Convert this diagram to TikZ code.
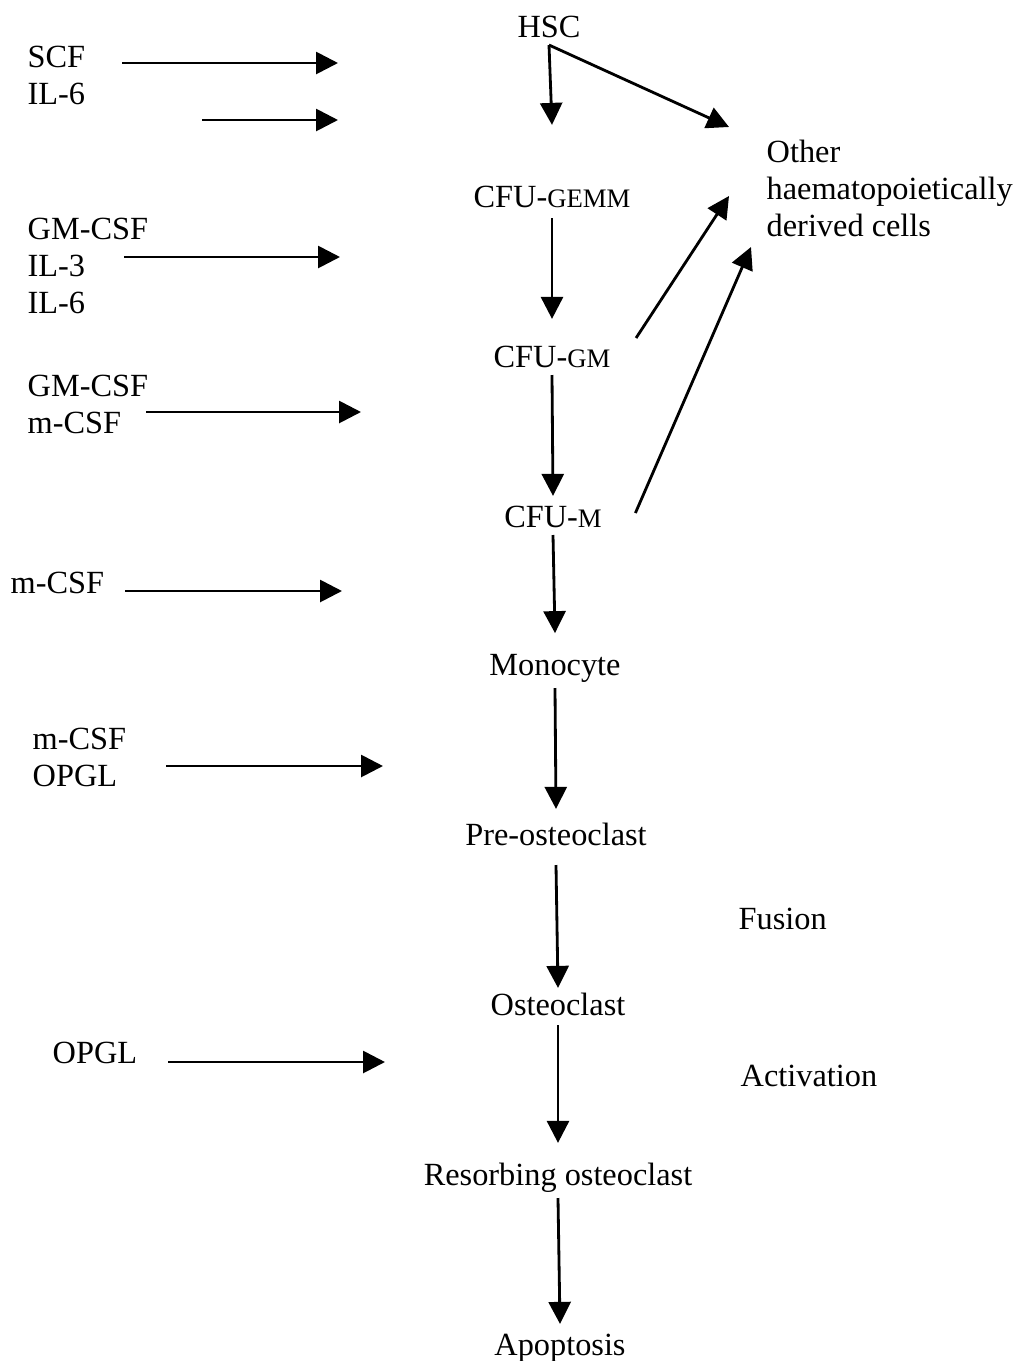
\documentclass[tikz,border=0pt]{standalone}
\usepackage{fontspec}
\setmainfont{Liberation Serif}
\usetikzlibrary{arrows.meta}
\newcommand{\smc}[1]{{\fontsize{7.6}{8}\selectfont #1}}

\begin{document}
\begin{tikzpicture}[
  x=0.1mm, y=-0.1mm,
  cell/.style={inner sep=0pt, anchor=base, font=\fontsize{9.2}{10.6}\selectfont},
  factor/.style={inner sep=0pt, anchor=north west, align=left, font=\fontsize{9.2}{10.6}\selectfont},
  note/.style={inner sep=0pt, anchor=base west, font=\fontsize{9.2}{10.6}\selectfont},
  arr/.style={-{Triangle[length=2.2mm, width=2.2mm]}, line width=0.8pt},
]
\useasboundingbox (0,0) rectangle (1021,1361);

% lineage, top to bottom
\node[cell] (hsc)    at (549,37)   {HSC};
\node[cell] (gemm)   at (552,207)  {CFU-\smc{GEMM}};
\node[cell] (gm)     at (552,367)  {CFU-\smc{GM}};
\node[cell] (cfum)   at (553,527)  {CFU-\smc{M}};
\node[cell] (mono)   at (555,675)  {Monocyte};
\node[cell] (pre)    at (556,845)  {Pre-osteoclast};
\node[cell] (osteo)  at (558,1015) {Osteoclast};
\node[cell] (resorb) at (558,1185) {Resorbing osteoclast};
\node[cell] (apop)   at (560,1355) {Apoptosis};

\node[factor] (other) at (766,139) {Other\\haematopoietically\\derived cells};
\node[note]   (fusion)     at (738,929)  {Fusion};
\node[note]   (activation) at (740,1086) {Activation};

% growth factors on the left
\node[factor] (fscf)  at (27,45)  {SCF\\IL-6};
\node[factor] (fgm)   at (27,217) {GM-CSF\\IL-3\\IL-6};
\node[factor] (fgmm)  at (27,374) {GM-CSF\\m-CSF};
\node[note]   (fm)    at (10,593) {m-CSF};
\node[factor] (fmop)  at (32,727) {m-CSF\\OPGL};
\node[note]   (fopgl) at (52,1063) {OPGL};

\coordinate (a1) at (122,63);   \coordinate (b1) at (338,63);
\coordinate (a2) at (202,120);  \coordinate (b2) at (338,120);
\coordinate (a3) at (124,257);  \coordinate (b3) at (340,257);
\coordinate (a4) at (146,412);  \coordinate (b4) at (361,412);
\coordinate (a5) at (125,591);  \coordinate (b5) at (342,591);
\coordinate (a6) at (166,766);  \coordinate (b6) at (383,766);
\coordinate (a7) at (168,1062); \coordinate (b7) at (385,1062);
\foreach \i in {1,...,7} {
  \draw[arr] (a\i) -- (b\i);
}

% differentiation arrows
\draw[arr] ([yshift=-0.8mm]hsc.base) coordinate (fork) -- ([yshift=6.0mm]gemm.north);
\draw[arr] (fork) -- ([shift={(-3.7mm,1.2mm)}]other.north west);
\draw[arr] ([yshift=-1.1mm]gemm.base) -- ([yshift=2.6mm]gm.north);
\draw[arr] ([yshift=-0.8mm]gm.base) -- ([yshift=0.9mm]cfum.north);
\draw[arr] ([yshift=-0.8mm]cfum.base) -- ([yshift=2.0mm]mono.north);
\draw[arr] ([yshift=-1.3mm]mono.base) -- ([yshift=1.3mm]pre.north);
\draw[arr] ([yshift=-2.0mm]pre.base) -- ([yshift=0.4mm]osteo.north);
\draw[arr] ([yshift=-1.0mm]osteo.base) -- ([yshift=1.9mm]resorb.north);
\draw[arr] ([yshift=-1.3mm]resorb.base) -- ([yshift=0.9mm]apop.north);

% branches to other lineages
\draw[arr] ([shift={(2.5mm,2.9mm)}]gm.base east) -- ([shift={(-3.7mm,-5.7mm)}]other.north west);
\draw[arr] ([shift={(3.3mm,1.4mm)}]cfum.base east) -- ([shift={(-1.5mm,-10.8mm)}]other.north west);
\end{tikzpicture}
\end{document}
